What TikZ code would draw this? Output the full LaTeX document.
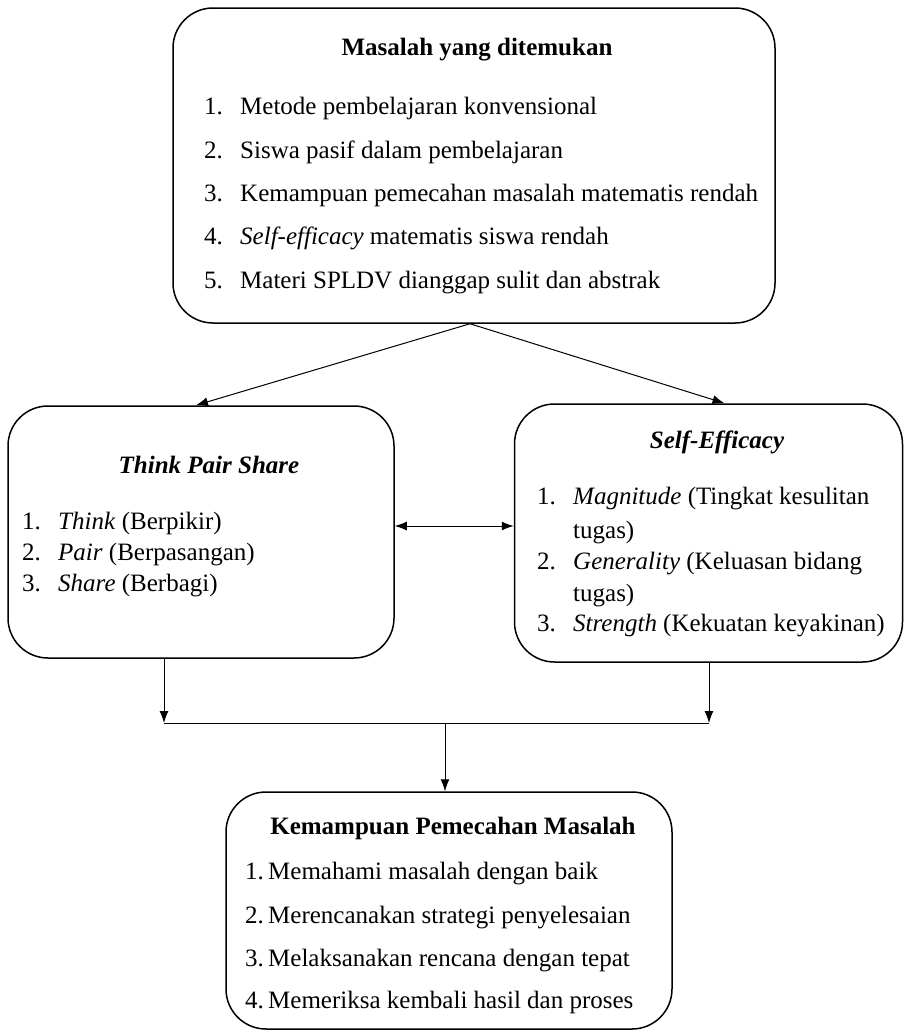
\documentclass[tikz,border=0pt]{standalone}
\usepackage{fontspec}
\setmainfont{Liberation Serif}
\usepackage{tikz}
\usetikzlibrary{arrows.meta, positioning, calc}

\newcommand{\diagfont}{\fontsize{25pt}{30pt}\selectfont}

\begin{document}
\begin{tikzpicture}[
    x=1pt, y=1pt,
    panel/.style={rectangle, rounded corners=40pt, draw=black, line width=1.5pt, inner sep=0pt},
    title/.style={inner sep=0pt, font=\diagfont\bfseries},
    ititle/.style={inner sep=0pt, font=\diagfont\bfseries\itshape},
    item/.style={anchor=west, inner sep=0pt, text height=17pt, text depth=5pt, font=\diagfont},
    arrow/.style={-{Latex[length=12pt,width=9pt]}, line width=1pt},
    dblarrow/.style={{Latex[length=12pt,width=9pt]}-{Latex[length=12pt,width=9pt]}, line width=1pt},
    line/.style={line width=1pt}
  ]
    \useasboundingbox (0,0) rectangle (904,-1034);

    % boxes
    \node[panel, minimum width=602pt, minimum height=315pt] (masalah) at (474,-165.5) {};
    \node[panel, minimum width=386pt, minimum height=252pt] (tps) at (201,-532) {};
    \node[panel, minimum width=388pt, minimum height=258pt] (efikasi) at (708.5,-533) {};
    \node[panel, minimum width=446pt, minimum height=237pt] (kpm) at (449,-910.5) {};

    % masalah yang ditemukan
    \node[title] (masalahT) at (477,-50) {Masalah yang ditemukan};
    \node[item] (m1) at (204,-108) {\makebox[36pt][l]{1.}Metode pembelajaran konvensional};
    \node[item] (m2) at (204,-152) {\makebox[36pt][l]{2.}Siswa pasif dalam pembelajaran};
    \node[item] (m3) at (204,-195) {\makebox[36pt][l]{3.}Kemampuan pemecahan masalah matematis rendah};
    \node[item] (m4) at (204,-238) {\makebox[36pt][l]{4.}\textit{Self-efficacy} matematis siswa rendah};
    \node[item] (m5) at (204,-282) {\makebox[36pt][l]{5.}Materi SPLDV dianggap sulit dan abstrak};

    % think pair share
    \node[ititle] (tpsT) at (209,-465) {Think Pair Share};
    \node[item] (t1) at (22,-523) {\makebox[36pt][l]{1.}\textit{Think} (Berpikir)};
    \node[item] (t2) at (22,-554) {\makebox[36pt][l]{2.}\textit{Pair} (Berpasangan)};
    \node[item] (t3) at (22,-585) {\makebox[36pt][l]{3.}\textit{Share} (Berbagi)};

    % self-efficacy
    \node[ititle] (efikasiT) at (717,-442) {Self-Efficacy};
    \node[item] (e1) at (537,-498) {\makebox[36pt][l]{1.}\textit{Magnitude} (Tingkat kesulitan};
    \node[item] (e1b) at (573,-532) {tugas)};
    \node[item] (e2) at (537,-563) {\makebox[36pt][l]{2.}\textit{Generality} (Keluasan bidang};
    \node[item] (e2b) at (573,-595) {tugas)};
    \node[item] (e3) at (537,-625) {\makebox[36pt][l]{3.}\textit{Strength} (Kekuatan keyakinan)};

    % kemampuan pemecahan masalah
    \node[title] (kpmT) at (453,-828) {Kemampuan Pemecahan Masalah};
    \node[item] (k1) at (245,-873) {\makebox[23pt][l]{1.}Memahami masalah dengan baik};
    \node[item] (k2) at (245,-917) {\makebox[23pt][l]{2.}Merencanakan strategi penyelesaian};
    \node[item] (k3) at (245,-960) {\makebox[23pt][l]{3.}Melaksanakan rencana dengan tepat};
    \node[item] (k4) at (245,-1002) {\makebox[23pt][l]{4.}Memeriksa kembali hasil dan proses};

    % connectors
    \coordinate (kiri) at (164,-723);
    \coordinate (kanan) at (709,-723);
    \coordinate (tengah) at (445,-723);
    \draw[arrow] ($(masalah.south)+(-4,0)$) -- ($(tps.north)+(-5,0)$);
    \draw[arrow] ($(masalah.south)+(-4,0)$) -- ($(efikasi.north)+(16,0)$);
    \draw[dblarrow] ($(tps.east)+(0,6)$) -- ($(efikasi.west)+(0,7)$);
    \draw[arrow] (kiri |- tps.south) -- (kiri);
    \draw[arrow] (kanan |- efikasi.south) -- (kanan);
    \draw[line] (kiri) -- (kanan);
    \draw[arrow] (tengah) -- (tengah |- kpm.north);
  \end{tikzpicture}
\end{document}
